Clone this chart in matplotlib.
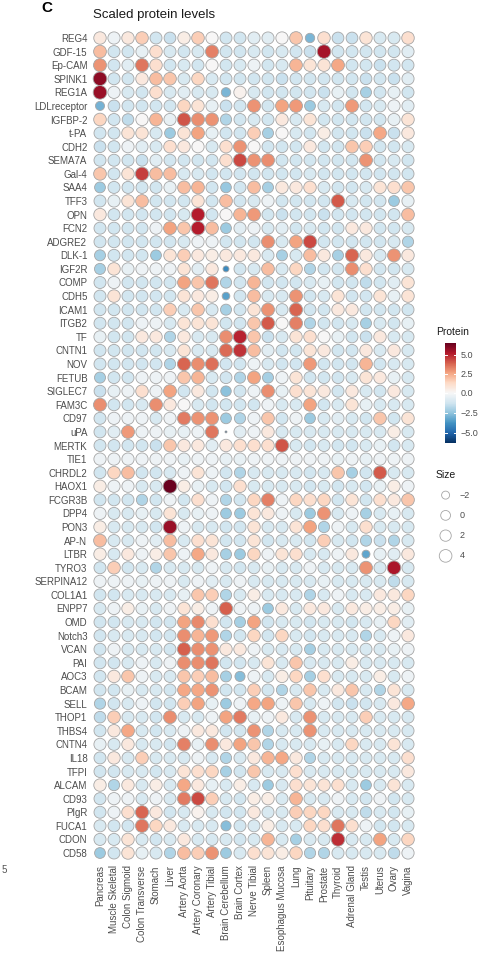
import numpy as np
import matplotlib
matplotlib.use("Agg")
import matplotlib.pyplot as plt
from matplotlib.colors import TwoSlopeNorm

plt.rcParams['font.family'] = ['Liberation Sans', 'DejaVu Sans']

proteins = ["REG4", "GDF-15", "Ep-CAM", "SPINK1", "REG1A", "LDLreceptor", "IGFBP-2", "t-PA", "CDH2",
            "SEMA7A", "Gal-4", "SAA4", "TFF3", "OPN", "FCN2", "ADGRE2", "DLK-1", "IGF2R", "COMP", "CDH5",
            "ICAM1", "ITGB2", "TF", "CNTN1", "NOV", "FETUB", "SIGLEC7", "FAM3C", "CD97", "uPA", "MERTK",
            "TIE1", "CHRDL2", "HAOX1", "FCGR3B", "DPP4", "PON3", "AP-N", "LTBR", "TYRO3", "SERPINA12",
            "COL1A1", "ENPP7", "OMD", "Notch3", "VCAN", "PAI", "AOC3", "BCAM", "SELL", "THOP1", "THBS4",
            "CNTN4", "IL18", "TFPI", "ALCAM", "CD93", "PIgR", "FUCA1", "CDON", "CD58"]

tissues = ["Pancreas", "Muscle Skeletal", "Colon Sigmoid", "Colon Transverse", "Stomach", "Liver",
           "Artery Aorta", "Artery Coronary", "Artery Tibial", "Brain Cerebellum", "Brain Cortex",
           "Nerve Tibial", "Spleen", "Esophagus Mucosa", "Lung", "Pituitary", "Prostate", "Thyroid",
           "Adrenal Gland", "Testis", "Uterus", "Ovary", "Vagina"]

values = [
    [0.7, -0.3, 0.7, 1.6, -1.2, -1.4, 0.5, 1.6, 0.0, -1.2, -1.2, -0.7, -0.7, 0.0, 1.8, -2.9, 1.1, -1.4, -1.4, 0.9, -1.0, -1.0, 1.1],
    [2.0, -1.2, -1.2, -0.5, 1.1, -1.0, -1.2, -1.0, 3.3, -1.2, -1.2, -1.0, -1.2, -1.0, -1.2, -1.4, 5.4, -1.2, -1.2, -1.2, -1.2, -1.2, -0.7],
    [2.9, -1.2, -0.7, 3.5, 1.1, -1.2, -1.0, -1.2, 0.0, -1.2, -1.0, -0.3, -1.2, -1.0, 2.2, 0.9, 0.9, 2.5, -1.2, -1.2, -1.4, -1.2, -1.2],
    [5.8, -1.2, -1.2, 0.7, 2.0, 1.8, -1.0, 1.4, -1.0, -1.2, -1.2, -1.2, -1.2, -1.4, -1.2, -1.2, -1.2, -1.2, -1.2, -1.4, -1.2, -1.4, -0.7],
    [5.6, -0.3, -1.0, -1.2, 1.1, -1.0, -0.7, -1.0, -1.0, -2.9, 0.3, -1.0, -1.2, -1.2, -1.2, -1.2, -1.4, -0.5, -1.2, -2.1, -1.2, -0.5, -1.2],
    [-3.0, -1.4, -1.2, -1.2, -1.2, -1.2, 1.4, 0.9, -0.5, -1.4, -1.2, 2.9, -1.2, 2.6, 2.8, -2.3, -1.0, -1.2, 2.8, -1.2, -1.0, -0.3, -0.7],
    [1.4, -1.2, -1.6, 0.0, 2.2, -0.5, 4.1, 3.0, 2.9, -1.9, -1.2, -1.0, -1.2, 0.7, -1.0, 0.9, -1.2, -1.2, -1.2, -1.2, -1.2, -0.5, 0.9],
    [-1.2, -1.2, 0.9, 0.9, -1.0, -2.3, 0.9, 2.6, -0.5, -1.2, -1.2, 1.6, -2.1, 0.0, -1.0, -1.2, 0.5, -1.2, -1.2, -1.4, 2.5, -1.4, 0.7],
    [-1.4, -1.2, -0.3, -0.7, -1.0, 1.1, 0.7, 0.0, -1.0, 1.1, 2.9, 0.0, -1.2, -1.2, -1.2, 0.7, -1.2, -1.2, 1.8, 1.6, -1.2, -1.2, -1.0],
    [-1.2, -1.2, -1.2, -1.4, -0.7, -1.2, -1.2, -1.2, -1.2, 1.1, 4.3, 2.9, 3.0, -1.2, -1.2, -1.2, -1.2, -1.2, -1.2, 2.9, -1.2, -1.0, -1.2],
    [1.8, -1.2, 0.9, 4.5, 2.0, 2.0, -1.0, -1.0, -1.2, -1.2, -1.2, -1.2, -1.2, -1.2, -1.2, -1.0, -1.2, -1.2, -1.2, -1.2, -1.2, -1.2, -1.2],
    [-2.3, -1.2, -1.2, -1.2, -1.2, -0.5, 2.0, 2.2, -1.2, -2.4, -1.2, 2.0, -2.1, 0.7, 0.7, 1.1, -1.0, -1.2, -1.2, -1.0, 0.9, 1.1, 1.8],
    [-1.2, -0.5, 0.9, 2.0, -1.2, -1.2, -1.2, 0.9, -1.2, 2.0, -1.2, -1.0, -0.3, -1.2, -1.2, -1.2, -1.2, 4.0, -1.0, -1.2, -1.2, -2.3, -0.5],
    [0.7, -1.2, -1.2, -1.2, -1.2, -1.2, -1.0, 5.1, -1.2, 0.0, 2.2, 2.8, -1.2, -1.4, -1.2, -1.2, -1.4, -1.2, -1.2, -1.2, -1.2, -1.2, 2.0],
    [-1.2, -1.2, -1.2, -1.2, -0.3, 2.6, 1.8, 5.1, 2.0, -2.3, -0.7, -0.3, -1.0, -0.7, -1.2, -1.0, -1.2, -1.2, 0.7, 0.7, -1.2, -1.2, -1.0],
    [-1.2, -1.2, -1.2, -1.2, -1.2, -1.2, -1.0, -0.3, -0.3, -1.2, -1.2, -1.2, 3.0, -1.0, 2.6, 4.3, -1.2, -1.2, -1.2, -1.2, -1.2, -1.0, -1.9],
    [-2.1, -1.2, -1.2, -1.2, -2.3, 0.9, 1.6, 0.7, 0.5, 0.7, 0.7, 0.7, -1.0, -2.1, -1.0, 2.0, 0.7, -2.1, 3.8, 0.7, -1.0, 2.9, 0.7],
    [-2.1, 0.9, -0.5, -0.3, -0.3, -0.3, 0.9, -0.7, 0.7, -4.0, -1.2, -1.0, 2.0, -1.0, 1.4, -1.9, -1.2, -1.2, 3.0, 1.1, -1.2, -1.2, -1.0],
    [-1.2, -0.3, -1.2, -1.2, -1.2, -1.2, 2.6, 1.8, 3.5, -1.9, -1.2, 2.2, -1.2, -1.2, -1.2, -1.0, -0.5, -1.2, -1.2, -1.6, -1.2, -0.7, 0.9],
    [-1.2, 0.9, -1.2, -1.2, -1.2, -1.2, 0.9, 0.7, 0.5, -3.4, -1.2, 2.0, -1.0, -1.0, 2.9, -1.2, -1.0, 0.9, -1.2, -1.2, 0.9, -0.5, 0.9],
    [-1.2, -1.2, -1.2, -1.2, -1.2, 1.6, -1.0, 1.8, -1.0, -2.1, -1.2, 0.9, 2.9, -1.0, 3.8, -1.2, -1.2, 0.7, 0.7, -1.2, -1.2, -1.2, -1.2],
    [-1.2, -1.2, -1.2, -0.3, -0.3, -1.0, 0.9, 0.9, 0.9, -1.2, -1.2, 1.8, 4.0, 0.0, 3.3, -1.9, -1.2, -1.2, -1.0, -2.1, -1.0, -1.2, -0.5],
    [-0.5, -1.2, -1.2, 0.7, 0.7, -1.9, 0.7, -1.0, -1.0, 3.0, 5.0, 1.8, -1.4, -1.0, 0.9, 1.1, 0.0, -0.5, -1.2, -1.4, 0.7, -1.0, -1.0],
    [-1.2, -1.2, -1.2, -1.2, -1.2, -1.0, 0.9, -1.0, -1.0, 3.7, 4.7, 2.0, -0.7, -1.2, -1.2, 0.9, 0.7, -1.2, -1.2, 0.7, -1.0, 0.7, -1.0],
    [-1.2, -1.2, -1.2, -1.2, -1.2, -1.9, 3.8, 3.0, 3.6, -1.2, -1.2, -0.3, -1.0, -1.2, -1.2, 2.8, -1.2, -1.2, -1.2, 2.2, -1.2, -1.0, -1.0],
    [-2.1, -1.2, -1.2, -0.3, -0.3, -0.3, 1.8, 2.2, -1.0, -1.2, -1.9, 2.6, -2.1, -0.3, 0.9, -1.2, -1.2, -1.2, -1.0, 0.9, 0.7, -0.5, -1.0],
    [-1.4, -0.5, -0.3, 1.1, -0.3, 2.6, -1.2, 0.7, -1.2, -2.6, -1.2, -0.3, 3.0, -0.5, 1.1, 0.9, 0.7, -1.2, 0.7, -1.0, -1.2, 0.7, -1.0],
    [3.0, -1.2, -1.2, -1.0, 3.0, 0.7, 0.0, -1.0, -1.2, -1.2, -1.2, -1.2, -0.3, -1.0, -1.0, 2.6, -1.2, -1.0, 0.9, -0.5, -1.0, -1.0, -1.0],
    [-1.2, -0.3, -0.3, -0.3, -1.0, -0.3, 3.4, 2.9, 2.9, -2.3, -1.9, -0.3, 1.8, -1.2, -0.3, -2.3, -1.0, -0.7, -1.0, -1.2, 1.8, -1.2, 0.9],
    [-1.2, -0.7, 2.8, -0.3, -0.3, -0.5, -0.5, -0.3, 3.5, -6.0, -0.7, -0.3, 0.7, -1.0, -1.0, -1.0, -1.0, -1.0, -1.0, -1.0, -1.0, 0.5, -1.0],
    [-1.2, -1.2, -1.2, -1.2, -1.4, 1.8, 0.7, 0.7, -0.7, 0.7, 1.1, 1.1, 1.1, 4.1, -1.0, -1.2, -1.0, -1.2, -1.2, -1.0, -0.5, -1.2, -1.0],
    [-0.3, -0.3, -0.3, -0.3, -0.3, -0.3, -0.5, -0.3, -0.3, -0.5, -0.5, -0.3, -0.3, -0.3, -0.3, -0.3, -0.3, -0.5, -0.3, -0.5, -0.3, -0.3, -0.3],
    [-1.2, 1.4, 2.0, -1.2, -1.2, -1.0, -0.3, 0.9, -0.3, -1.2, -1.9, -1.0, -1.0, -1.0, -1.0, -1.2, -1.0, 1.8, -2.1, -1.2, 4.0, -1.0, -1.0],
    [0.5, -0.3, -0.3, -1.0, -1.0, 6.4, 0.5, -0.5, -1.0, -1.2, 1.1, -1.0, -1.0, -1.0, -1.0, -1.2, -1.0, -1.2, -1.0, -1.2, -0.5, 0.5, -0.3],
    [-1.2, -1.2, -1.2, -1.9, -1.2, -0.3, -1.2, 1.1, -0.3, -1.9, -1.2, 1.4, 3.3, -0.3, 1.4, 1.1, 1.4, -1.2, 0.9, -1.2, 1.1, 0.7, 1.8],
    [-0.3, -1.0, -1.0, -0.5, -1.0, 0.9, -1.0, -0.5, -0.3, -2.3, -2.3, 0.9, 0.7, -0.3, -1.0, -2.3, 2.9, -1.0, -0.3, -2.1, -1.0, -0.5, -1.0],
    [0.5, -1.0, -1.0, -1.0, -1.2, 5.6, -0.3, -1.0, -1.0, -1.2, -1.2, 0.9, -1.0, -1.0, 0.9, 2.6, -1.9, -0.3, -1.0, 1.1, -1.0, -1.0, -1.0],
    [2.0, -1.0, -1.0, -0.3, -0.7, 2.0, -1.0, 1.1, 0.9, -1.2, -1.2, 0.9, -1.2, -1.0, -1.0, -1.2, 1.6, -1.0, -1.2, -1.9, -1.4, -1.9, -1.0],
    [0.5, -1.0, 0.7, -0.3, 0.5, 1.8, -0.3, 2.5, 0.7, -2.1, -2.3, 1.4, -0.3, 0.9, 1.1, -1.0, -1.0, -0.3, 0.7, -3.3, -0.5, -0.7, 0.7],
    [-1.2, 1.6, -1.2, -1.0, -1.9, -1.0, -1.0, -1.0, -0.3, -1.0, -1.2, -1.0, -0.5, -1.0, -1.0, -0.3, -1.0, -1.0, -1.0, 2.9, -1.0, 5.3, -1.0],
    [-0.3, -0.3, -0.3, -0.5, -0.3, -0.3, -1.0, -0.3, -0.7, -1.0, -0.3, -1.0, -1.0, -1.0, -1.0, -1.0, -0.5, -1.0, -1.0, -1.0, -1.0, -1.6, -1.0],
    [-1.2, -1.2, -1.0, -1.0, -1.0, -1.0, -0.5, 1.8, 1.6, -1.9, -1.0, 0.5, -1.0, -1.0, -1.0, -1.9, -1.0, -0.3, -1.0, -1.0, 0.7, 0.7, 1.4],
    [-1.0, -0.3, 0.5, -0.5, -1.0, -0.3, 0.9, 0.5, -0.3, 3.9, -0.3, -0.3, -2.3, 0.7, -1.0, 0.7, 0.7, -1.0, 0.7, 0.5, 0.5, 0.5, -0.5],
    [-1.2, -1.2, -1.0, -1.0, -1.2, -1.2, 2.6, 3.1, 1.1, -1.2, -2.1, 2.6, -1.2, -1.0, -1.0, -1.2, -1.0, -1.0, -1.2, -1.0, -0.5, 1.4, -0.7],
    [-1.2, -1.0, -1.0, -1.0, -1.2, -1.2, 3.0, 2.2, 2.8, -1.9, -1.2, 1.4, -1.2, 1.4, -1.0, -1.2, -1.0, -1.0, -1.0, -1.9, -1.0, -0.3, 0.7],
    [-1.2, -0.3, -1.0, -1.0, -1.0, -1.2, 3.9, 3.0, 2.9, 0.7, 0.7, -0.3, -1.0, -1.0, -1.0, -2.1, -1.0, -1.0, -1.0, -1.0, -1.0, -0.5, -0.3],
    [-1.2, -1.2, -1.0, -0.3, -1.0, -0.3, 3.0, 3.0, 3.5, -1.2, -1.2, -1.0, 0.9, -1.0, 1.8, -1.0, -1.0, -1.0, 0.5, -1.0, -1.0, -1.0, -1.0],
    [-1.2, 0.7, 1.8, -0.3, -1.0, -1.0, 1.8, 1.6, 2.0, -2.1, -2.7, -0.3, -1.0, 0.5, 1.4, -2.1, 1.1, -1.0, -1.0, -1.0, 0.5, -1.0, -0.3],
    [-1.2, -1.2, -0.5, -1.0, -1.0, -1.2, 2.5, 2.5, 2.9, -1.2, -1.2, 1.6, -1.2, -1.9, -1.0, 1.8, -1.0, 0.7, 1.8, -1.0, -1.9, 0.9, -1.0],
    [-1.9, -1.2, -1.0, -0.3, -1.2, -1.2, 1.6, 2.6, -0.5, -2.3, -0.3, 2.5, 2.6, -0.3, 1.8, -1.0, -0.3, -1.2, -1.4, -1.2, -1.0, 0.7, 2.5],
    [-1.6, 1.6, -1.0, -1.0, -1.2, 3.0, -1.0, -1.0, -0.3, 2.6, 3.4, -0.5, -0.3, 0.7, -1.0, 2.9, -1.0, -1.0, -1.0, 1.6, -1.0, -1.0, -1.0],
    [-1.2, 0.7, 2.5, -1.0, -1.2, -1.0, -0.3, 0.7, 0.7, -1.2, -1.2, 2.9, -1.9, -1.0, -1.0, 2.9, -1.0, -1.0, -1.0, -1.0, -1.0, -1.0, -1.0],
    [-0.5, -1.0, 0.7, -1.0, -1.0, -1.2, 3.3, -0.5, 3.0, 0.7, 2.6, 1.8, -1.9, -1.0, -1.0, -1.0, -0.5, -1.0, 1.4, -1.0, -1.0, 0.9, -1.0],
    [-1.2, 0.7, -1.0, 1.6, -1.0, -1.0, -1.0, -0.3, -1.0, -1.9, -1.0, 0.7, 2.2, 2.5, 0.7, -1.9, -1.0, -1.0, -1.0, -1.0, -1.0, -1.0, 1.1],
    [-1.2, -1.2, -1.0, -1.0, -1.2, -1.0, 0.9, 1.1, 1.4, -2.1, -1.2, 1.8, -1.0, -1.0, 1.1, -1.0, -1.0, -1.0, -1.0, -1.0, -1.0, -1.0, 0.7],
    [0.5, -1.9, 0.7, -1.0, 0.5, -1.0, 2.5, 0.7, -0.5, -1.0, 0.5, -1.0, -2.3, -1.0, 1.1, 0.9, 0.9, 1.1, -1.0, -2.3, -1.0, 0.9, -1.0],
    [-1.2, -0.3, -0.3, -1.0, -0.3, -1.0, 3.4, 4.3, 1.6, -1.0, -1.2, 0.5, 0.5, -1.0, 2.2, -1.0, -1.0, -0.3, -1.0, -1.2, -0.3, -1.2, -1.0],
    [-1.2, -0.3, 1.1, 3.8, 0.7, -1.2, -1.0, 0.3, -1.0, -1.2, -1.2, 0.7, -1.0, -1.0, 1.6, 1.4, 1.4, -1.0, -1.0, -1.6, -1.0, -1.2, -0.5],
    [-1.0, -1.2, -1.2, 3.5, 1.4, 0.7, -1.0, -1.0, -1.0, -2.7, -1.2, -1.0, 0.5, -1.0, -1.0, 1.4, 1.1, 3.5, 1.1, -0.3, -1.2, -1.2, -1.0],
    [-1.0, -1.0, 0.9, -1.0, -1.2, -1.0, 0.7, -1.0, -1.0, -1.0, -1.2, -1.0, 2.2, -1.0, -2.1, -1.0, -1.0, 4.8, -1.0, -1.0, 2.6, -1.0, 1.4],
    [-2.3, -1.2, 0.9, -0.5, -1.0, -1.9, 2.0, 1.6, 2.9, -2.3, -1.0, 1.1, 0.9, 0.5, 1.4, -1.9, -1.9, -1.0, -1.0, -1.0, -1.0, -1.6, -0.3],
]

size_legend_values = [-2, 0, 2, 4]
colorbar_ticks = [-5.0, -2.5, 0.0, 2.5, 5.0]

DPI = 100
W, H = 482.0, 958.0
fig = plt.figure(figsize=(W / DPI, H / DPI), dpi=DPI)

V = np.array(values)
nr, nc = V.shape
xx, yy = np.meshgrid(np.arange(nc), np.arange(nr))

def cell_diam_px(v):
    return np.interp(v, [-6.0, -4.0, -3.3, -2.6, -1.2, 0.0, 6.5],
                     [2.0, 6.0, 8.0, 10.5, 12.0, 12.3, 13.8])

def px_to_area(d):
    return (np.asarray(d, dtype=float) * 72.0 / DPI) ** 2

def legend_diam_px(v):
    return np.sqrt(96.0 + 16.0 * np.asarray(v, dtype=float))

norm = TwoSlopeNorm(vmin=-6.3, vcenter=0.0, vmax=6.5)
cmap = plt.get_cmap('RdBu_r')
edge = '#a6a6a6'
txtc = '#4d4d4d'

# main dot-plot axes (columns at x=100..408 px, rows at y=38..853 px)
x0, x1 = 100 - 0.6 * 14.0, 408 + 0.6 * 14.0
rs = (853 - 38) / 60.0
y0, y1 = 38 - 0.6 * rs, 853 + 0.6 * rs
ax = fig.add_axes([x0 / W, 1 - y1 / H, (x1 - x0) / W, (y1 - y0) / H])
ax.scatter(xx.ravel(), yy.ravel(), c=V.ravel(), s=px_to_area(cell_diam_px(V.ravel())),
           cmap=cmap, norm=norm, edgecolors=edge, linewidths=0.6, zorder=3)
ax.set_xlim(-0.6, nc - 0.4)
ax.set_ylim(nr - 0.4, -0.6)
ax.set_xticks(np.arange(nc))
ax.set_xticklabels(tissues, rotation=90, fontsize=7, color=txtc)
ax.set_yticks(np.arange(nr))
ax.set_yticklabels(proteins, fontsize=7, color=txtc)
ax.tick_params(length=0, pad=3)
for sp in ax.spines.values():
    sp.set_visible(False)

# titles
fig.text(93 / W, 1 - 15 / H, "Scaled protein levels", fontsize=9.5, va='center', ha='left', color='#1a1a1a')
fig.text(41 / W, 1 - 8 / H, "C", fontsize=11, fontweight='bold', va='center', ha='left')
fig.text(2 / W, 1 - 870 / H, "5", fontsize=7, va='center', ha='left', color='#555555')

# colour bar
fig.text(436 / W, 1 - 332 / H, "Protein", fontsize=7.5, va='center', ha='left', color='#1a1a1a')
cax = fig.add_axes([445 / W, 1 - 443 / H, 11 / W, 100 / H])
sm = matplotlib.cm.ScalarMappable(norm=norm, cmap=cmap)
cb = fig.colorbar(sm, cax=cax, ticks=colorbar_ticks)
cb.outline.set_visible(False)
cb.ax.set_yticklabels(["\u22125.0", "\u22122.5", "0.0", "2.5", "5.0"], fontsize=6.5, color=txtc)
cb.ax.tick_params(length=0, pad=3)
ytr = cb.ax.get_yaxis_transform()
for t in colorbar_ticks:
    cb.ax.plot([0, 0.2], [t, t], color='white', lw=0.7, transform=ytr)
    cb.ax.plot([0.8, 1.0], [t, t], color='white', lw=0.7, transform=ytr)

# size legend
fig.text(436 / W, 1 - 475 / H, "Size", fontsize=7.5, va='center', ha='left', color='#1a1a1a')
lax = fig.add_axes([430 / W, 1 - 566 / H, 52 / W, 81 / H])
ly = np.arange(len(size_legend_values))
lax.scatter(np.zeros(len(ly)), ly, s=px_to_area(legend_diam_px(size_legend_values)),
            facecolors='white', edgecolors=edge, linewidths=0.6)
for i, v in enumerate(size_legend_values):
    lab = "\u2212%d" % -v if v < 0 else "%d" % v
    lax.text(1.1, i, lab, fontsize=6.5, va='center', ha='left', color=txtc)
lax.set_xlim(-1.2, 2.8)
lax.set_ylim(len(ly) - 0.5, -0.5)
lax.axis('off')

fig.savefig("out.png", dpi=DPI)
